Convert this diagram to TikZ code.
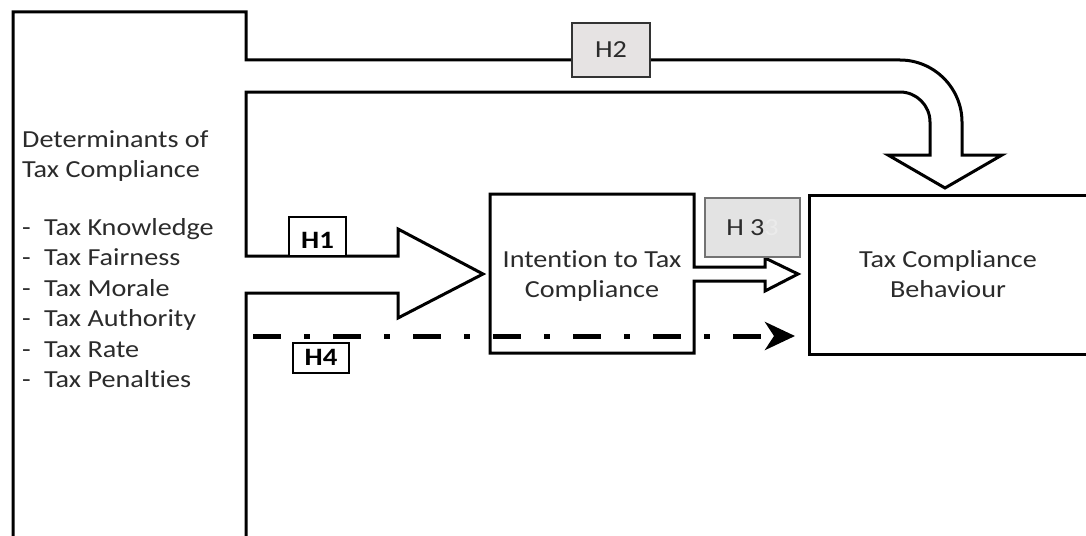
\documentclass[tikz,border=0pt]{standalone}
\usepackage{fontspec}
\setmainfont{Carlito}[FakeStretch=1.15, RawFeature=-liga]
\usetikzlibrary{arrows.meta}
\definecolor{txt}{gray}{0.17}
\definecolor{htwo}{RGB}{230,227,227}
\definecolor{hthree}{RGB}{227,227,227}
\begin{document}
\begin{tikzpicture}[x=1pt,y=-1pt,
  lbl/.style={font=\fontsize{24.5}{29}\selectfont, text=txt, inner sep=0pt},
  hbox/.style={draw, line width=2pt, fill=white, inner sep=0pt, font=\bfseries\fontsize{25}{27}\selectfont},
  graybox/.style={inner sep=0pt, font=\fontsize{24.5}{27}\selectfont, text=txt},
  outline/.style={line width=3pt, line join=miter},
  dashdot/.style={line width=5pt, dash pattern=on 28pt off 23pt on 6pt off 23pt,
    -{Stealth[length=30pt,width=28pt,inset=9pt]}}
]
\useasboundingbox (0,0) rectangle (1086,535);
\clip (0,0) rectangle (1086,535);

% source box fused with the H2 and H1 block arrows
\draw[outline] (13,545) -- (13,12) -- (246,12) -- (246,60) -- (900,60)
  .. controls (934,60) and (962,88) .. (962,122) -- (962,155) -- (1002,155)
  -- (945,188) -- (888,155) -- (930,155) -- (930,122)
  .. controls (930,105.5) and (916.5,92) .. (900,92) -- (246,92) -- (246,256)
  -- (398,256) -- (398,229) -- (483,274) -- (398,318) -- (398,293)
  -- (246,293) -- (246,545);

% intention box fused with the H3 block arrow
\draw[outline] (490,194) -- (694,194) -- (694,267) -- (765,267) -- (765,258)
  -- (798,274) -- (765,291) -- (765,281) -- (694,281) -- (694,353)
  -- (490,353) -- cycle;
\coordinate (int) at (592,273.5);

% behaviour box
\node[draw, line width=3pt, minimum width=282pt, minimum height=159pt,
  anchor=north west, inner sep=0pt] (beh) at (808,194) {};

% texts
\node[lbl, anchor=base west] (t1) at (22,147) {Determinants of};
\node[lbl, anchor=base west] (t2) at (22,177) {Tax Compliance};
\node[lbl, anchor=base west] (t3) at (22,235) {\makebox[22pt][l]{-}Tax Knowledge};
\node[lbl, anchor=base west] (t4) at (22,265.5) {\makebox[22pt][l]{-}Tax Fairness};
\node[lbl, anchor=base west] (t5) at (22,296) {\makebox[22pt][l]{-}Tax Morale};
\node[lbl, anchor=base west] (t6) at (22,326.5) {\makebox[22pt][l]{-}Tax Authority};
\node[lbl, anchor=base west] (t7) at (22,357) {\makebox[22pt][l]{-}Tax Rate};
\node[lbl, anchor=base west] (t8) at (22,387.5) {\makebox[22pt][l]{-}Tax Penalties};

\node[lbl, anchor=base] (i1) at (592,267) {Intention to Tax};
\node[lbl, anchor=base] (i2) at (592,297) {Compliance};
\node[lbl, anchor=base] (b1) at (948,267) {Tax Compliance};
\node[lbl, anchor=base] (b2) at (948,297) {Behaviour};

% H4 dash-dot arrow
\coordinate (h4s) at (253,336);
\draw[dashdot, shorten >=13pt] (h4s) -- (h4s -| beh.west);

% hypothesis labels
\node[graybox, draw=black!80, line width=2pt, fill=htwo, minimum width=78pt,
  minimum height=54pt] (h2) at (611,50) {H2};
\node[graybox, draw=black!55, line width=1.5pt, fill=hthree, minimum width=95pt,
  minimum height=59pt] (h3) at (752.5,227.5) {H 3{\color{black!8}3}};
\node[hbox, minimum width=57pt, minimum height=39pt] (h1) at (317.5,236.5)
  {\raisebox{-4pt}[\height][0pt]{H1}};
\node[hbox, minimum width=56pt, minimum height=30pt] (h4) at (321,358)
  {\raisebox{1pt}[\height][0pt]{H4}};
\end{tikzpicture}
\end{document}
